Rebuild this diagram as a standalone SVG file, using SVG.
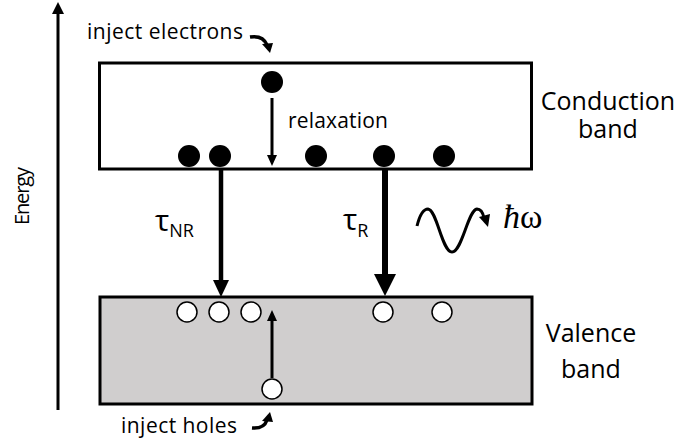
<svg xmlns="http://www.w3.org/2000/svg" width="682" height="445" viewBox="0 0 682 445">
<style>
.t{font-family:"Open Sans","Noto Sans","Liberation Sans",sans-serif;fill:#000}
.box{stroke:#000;stroke-width:3}
.el{fill:#000}
.hole{fill:#fff;stroke:#000;stroke-width:1.5}
.ln{stroke:#000;fill:none}
</style>
<rect width="682" height="445" fill="#fff"/>
<g id="energy-axis">
<line class="ln" x1="58" y1="410" x2="58" y2="12" stroke-width="3"/>
<polygon points="52,14 64,14 58,2" fill="#000"/>
<text class="t" font-size="20" transform="translate(29,196) rotate(-90)" text-anchor="middle" textLength="58">Energy</text>
</g>
<g id="conduction-band">
<rect class="box" x="99.5" y="63" width="432" height="106" fill="#fff"/>
<text class="t" font-size="25" x="608" y="110" text-anchor="middle">Conduction</text>
<text class="t" font-size="25" x="608" y="138" text-anchor="middle">band</text>
<circle class="el" cx="272" cy="82" r="11"/>
<circle class="el" cx="189" cy="156" r="11"/>
<circle class="el" cx="220" cy="156" r="11"/>
<circle class="el" cx="316" cy="156" r="11"/>
<circle class="el" cx="384" cy="156" r="11"/>
<circle class="el" cx="444" cy="156" r="11"/>
</g>
<g id="valence-band">
<rect class="box" x="100" y="297" width="432" height="107" fill="#d0cece"/>
<text class="t" font-size="25" x="591" y="342" text-anchor="middle">Valence</text>
<text class="t" font-size="25" x="591" y="378" text-anchor="middle">band</text>
<circle class="hole" cx="187" cy="312" r="10"/>
<circle class="hole" cx="219" cy="312" r="10"/>
<circle class="hole" cx="251" cy="312" r="10"/>
<circle class="hole" cx="383" cy="312" r="10"/>
<circle class="hole" cx="442" cy="312" r="10"/>
<circle class="hole" cx="272" cy="389" r="10"/>
</g>
<g id="labels">
<text class="t" font-size="21" x="87" y="39" textLength="156">inject electrons</text>
<text class="t" font-size="21" x="121" y="433" textLength="116">inject holes</text>
<text class="t" font-size="21" x="288" y="128" textLength="100">relaxation</text>
<text class="t" font-size="30" x="155" y="231">τ<tspan font-size="18" dy="6">NR</tspan></text>
<text class="t" font-size="30" x="343" y="230">τ<tspan font-size="18" dy="7">R</tspan></text>
<text font-family="'Liberation Serif','DejaVu Serif',serif" font-size="34" x="503" y="228"><tspan font-style="italic">ħ</tspan>ω</text>
</g>
<g id="connectors">
<path class="ln" stroke-width="3.5" d="M250,37 Q263,35 267,45"/>
<polygon points="262,44 273,43 270,53" fill="#000"/>
<path class="ln" stroke-width="3.5" d="M252,428 Q264,429 267,420"/>
<polygon points="262,421 273,422 270,412" fill="#000"/>
<line class="ln" stroke-width="3" x1="272" y1="98" x2="272" y2="156"/>
<polygon points="267,155 277,155 272,166" fill="#000"/>
<line class="ln" stroke-width="3" x1="272" y1="378" x2="272" y2="320"/>
<polygon points="267,321 277,321 272,310" fill="#000"/>
<line class="ln" stroke-width="4.5" x1="221" y1="169" x2="221" y2="282"/>
<polygon points="213,280 229,280 221,297" fill="#000"/>
<line class="ln" stroke-width="6" x1="385" y1="169" x2="385" y2="276"/>
<polygon points="374,274 396,274 385,296" fill="#000"/>
<path class="ln" stroke-width="3" d="M417,226 C420,214 424,209 428,209 C437,210 442,252 452,252 C462,252 468,210 477,209 C481,209 483,213 484,218"/>
<polygon points="479,217 490,214 488,227" fill="#000"/>
</g>
</svg>
